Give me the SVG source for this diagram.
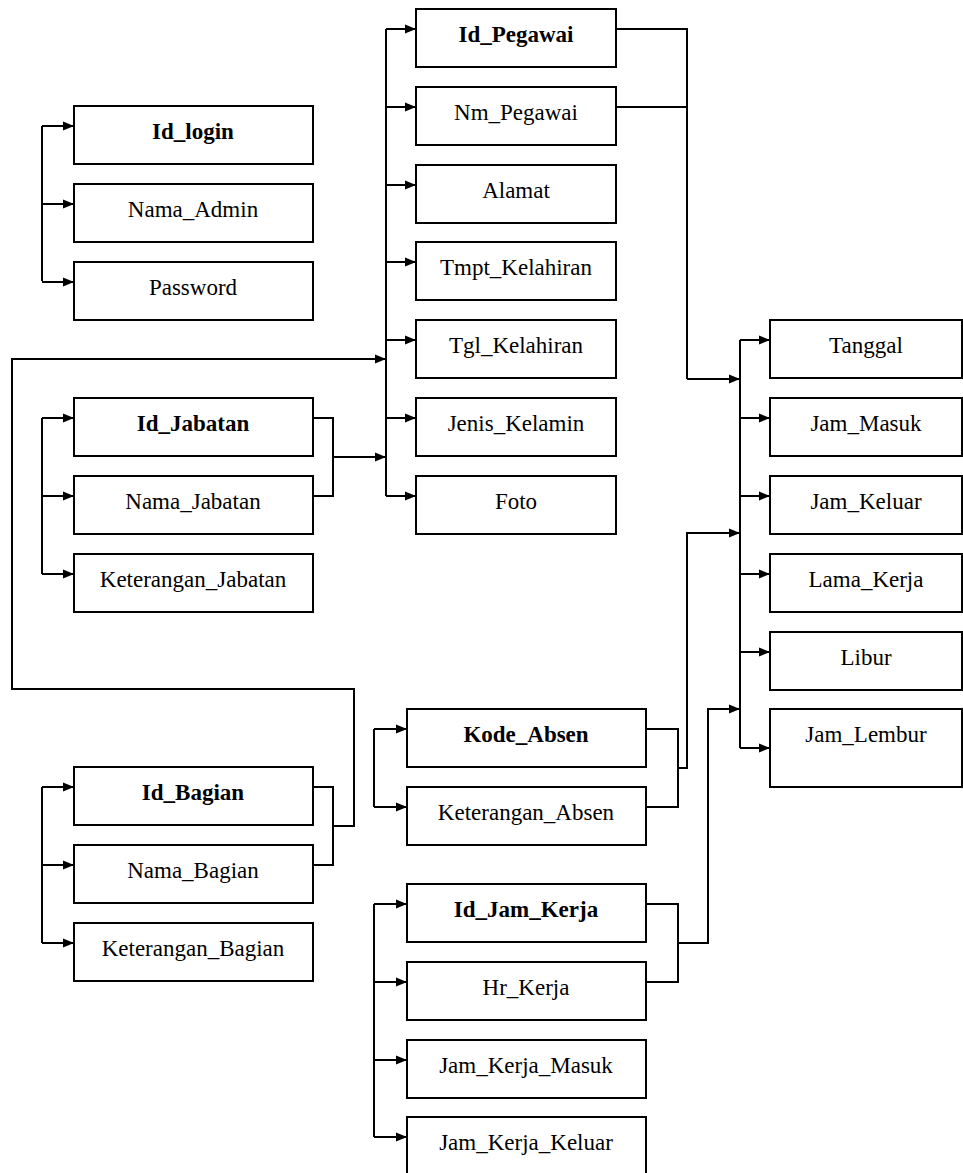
<svg xmlns="http://www.w3.org/2000/svg" width="963" height="1173" viewBox="0 0 963 1173">
<style>
.b{fill:#fff;stroke:#000;stroke-width:2}
.t{font-family:"Liberation Serif","Times New Roman",serif;font-size:23px;text-anchor:middle;fill:#000}
.k{font-weight:bold}
.c{fill:none;stroke:#000;stroke-width:2}
.a{marker-end:url(#ah)}
</style>
<defs>
<marker id="ah" markerUnits="userSpaceOnUse" markerWidth="12" markerHeight="10" refX="11" refY="5" orient="auto">
<path d="M0,0.5 L11,5 L0,9.5 Z" fill="#000"/>
</marker>
</defs>
<rect width="963" height="1173" fill="#fff"/>
<g id="connectors">
<!-- login -->
<path class="c" d="M42,126 V281"/>
<path class="c a" d="M42,126 H74"/><path class="c a" d="M42,204 H74"/><path class="c a" d="M42,282 H74"/>
<!-- pegawai -->
<path class="c" d="M386,29 V496"/>
<path class="c a" d="M386,29 H416"/><path class="c a" d="M386,107 H416"/><path class="c a" d="M386,185 H416"/><path class="c a" d="M386,262 H416"/><path class="c a" d="M386,340 H416"/><path class="c a" d="M386,418 H416"/><path class="c a" d="M386,496 H416"/>
<path class="c" d="M616,29 H687 V379"/><path class="c" d="M616,107 H687"/>
<path class="c a" d="M687,379 H740"/>
<!-- right group -->
<path class="c" d="M740,340 V748"/>
<path class="c a" d="M740,340 H770"/><path class="c a" d="M740,418 H770"/><path class="c a" d="M740,496 H770"/><path class="c a" d="M740,574 H770"/><path class="c a" d="M740,652 H770"/><path class="c a" d="M740,748 H770"/>
<!-- jabatan -->
<path class="c" d="M42,418 V574"/>
<path class="c a" d="M42,418 H74"/><path class="c a" d="M42,496 H74"/><path class="c a" d="M42,574 H74"/>
<path class="c" d="M313,418 H333 V496 H313"/>
<path class="c a" d="M333,457 H386"/>
<!-- bagian -->
<path class="c" d="M42,787 V943"/>
<path class="c a" d="M42,787 H74"/><path class="c a" d="M42,865 H74"/><path class="c a" d="M42,943 H74"/>
<path class="c" d="M313,787 H333 V865 H313"/>
<path class="c a" d="M333,826 H354 V689 H12 V359 H386"/>
<!-- kode absen -->
<path class="c" d="M374,729 V807"/>
<path class="c a" d="M374,729 H407"/><path class="c a" d="M374,807 H407"/>
<path class="c" d="M646,729 H678 V807 H646"/>
<path class="c a" d="M678,768 H687 V533 H740"/>
<!-- jam kerja -->
<path class="c" d="M374,904 V1137"/>
<path class="c a" d="M374,904 H407"/><path class="c a" d="M374,982 H407"/><path class="c a" d="M374,1060 H407"/><path class="c a" d="M374,1137 H407"/>
<path class="c" d="M646,904 H678 V982 H646"/>
<path class="c a" d="M678,943 H708 V709 H740"/>
</g>
<g id="login">
<g id="n-id-login"><rect class="b" x="74" y="106" width="239" height="58"/><text class="t k" x="193" y="139">Id_login</text></g>
<g id="n-nama-admin"><rect class="b" x="74" y="184" width="239" height="58"/><text class="t" x="193" y="217">Nama_Admin</text></g>
<g id="n-password"><rect class="b" x="74" y="262" width="239" height="58"/><text class="t" x="193" y="295">Password</text></g>
</g>
<g id="pegawai">
<g id="n-id-pegawai"><rect class="b" x="416" y="9" width="200" height="58"/><text class="t k" x="516" y="42">Id_Pegawai</text></g>
<g id="n-nm-pegawai"><rect class="b" x="416" y="87" width="200" height="58"/><text class="t" x="516" y="120">Nm_Pegawai</text></g>
<g id="n-alamat"><rect class="b" x="416" y="165" width="200" height="58"/><text class="t" x="516" y="198">Alamat</text></g>
<g id="n-tmpt"><rect class="b" x="416" y="242" width="200" height="58"/><text class="t" x="516" y="275">Tmpt_Kelahiran</text></g>
<g id="n-tgl"><rect class="b" x="416" y="320" width="200" height="58"/><text class="t" x="516" y="353">Tgl_Kelahiran</text></g>
<g id="n-jenis"><rect class="b" x="416" y="398" width="200" height="58"/><text class="t" x="516" y="431">Jenis_Kelamin</text></g>
<g id="n-foto"><rect class="b" x="416" y="476" width="200" height="58"/><text class="t" x="516" y="509">Foto</text></g>
</g>
<g id="absensi">
<g id="n-tanggal"><rect class="b" x="770" y="320" width="192" height="58"/><text class="t" x="866" y="353">Tanggal</text></g>
<g id="n-jam-masuk"><rect class="b" x="770" y="398" width="192" height="58"/><text class="t" x="866" y="431">Jam_Masuk</text></g>
<g id="n-jam-keluar"><rect class="b" x="770" y="476" width="192" height="58"/><text class="t" x="866" y="509">Jam_Keluar</text></g>
<g id="n-lama-kerja"><rect class="b" x="770" y="554" width="192" height="58"/><text class="t" x="866" y="587">Lama_Kerja</text></g>
<g id="n-libur"><rect class="b" x="770" y="632" width="192" height="58"/><text class="t" x="866" y="665">Libur</text></g>
<g id="n-jam-lembur"><rect class="b" x="770" y="709" width="192" height="78"/><text class="t" x="866" y="742">Jam_Lembur</text></g>
</g>
<g id="jabatan">
<g id="n-id-jabatan"><rect class="b" x="74" y="398" width="239" height="58"/><text class="t k" x="193" y="431">Id_Jabatan</text></g>
<g id="n-nama-jabatan"><rect class="b" x="74" y="476" width="239" height="58"/><text class="t" x="193" y="509">Nama_Jabatan</text></g>
<g id="n-ket-jabatan"><rect class="b" x="74" y="554" width="239" height="58"/><text class="t" x="193" y="587">Keterangan_Jabatan</text></g>
</g>
<g id="bagian">
<g id="n-id-bagian"><rect class="b" x="74" y="767" width="239" height="58"/><text class="t k" x="193" y="800">Id_Bagian</text></g>
<g id="n-nama-bagian"><rect class="b" x="74" y="845" width="239" height="58"/><text class="t" x="193" y="878">Nama_Bagian</text></g>
<g id="n-ket-bagian"><rect class="b" x="74" y="923" width="239" height="58"/><text class="t" x="193" y="956">Keterangan_Bagian</text></g>
</g>
<g id="absen">
<g id="n-kode-absen"><rect class="b" x="407" y="709" width="239" height="58"/><text class="t k" x="526" y="742">Kode_Absen</text></g>
<g id="n-ket-absen"><rect class="b" x="407" y="787" width="239" height="58"/><text class="t" x="526" y="820">Keterangan_Absen</text></g>
</g>
<g id="jamkerja">
<g id="n-id-jam-kerja"><rect class="b" x="407" y="884" width="239" height="58"/><text class="t k" x="526" y="917">Id_Jam_Kerja</text></g>
<g id="n-hr-kerja"><rect class="b" x="407" y="962" width="239" height="58"/><text class="t" x="526" y="995">Hr_Kerja</text></g>
<g id="n-jk-masuk"><rect class="b" x="407" y="1040" width="239" height="58"/><text class="t" x="526" y="1073">Jam_Kerja_Masuk</text></g>
<g id="n-jk-keluar"><rect class="b" x="407" y="1117" width="239" height="58"/><text class="t" x="526" y="1150">Jam_Kerja_Keluar</text></g>
</g>
</svg>
